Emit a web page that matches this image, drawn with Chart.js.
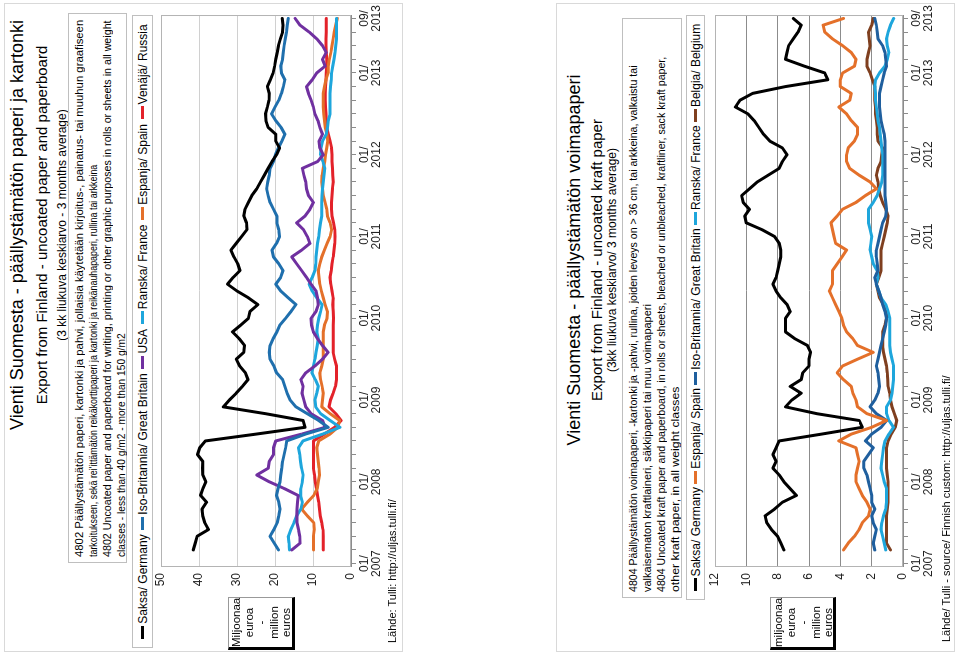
<!DOCTYPE html>
<html>
<head>
<meta charset="utf-8">
<script src="https://cdn.jsdelivr.net/npm/chart.js@4.4.0/dist/chart.umd.min.js"></script>
<style>
body { margin: 0; background: #fff; width: 959px; height: 657px; overflow: hidden; font-family: "Liberation Sans", Arial, sans-serif; color: #000; }
.panel { position: absolute; top: 652px; width: 649px; height: 399px; transform-origin: 0 0; transform: rotate(-90deg); background: #fff; }
.frame { position: absolute; left: 0; top: 0; width: 647px; height: 397px; border: 1px solid #d9d9d9; }
.panel canvas { position: absolute; left: 0; top: 0; }
.abs { position: absolute; white-space: nowrap; }
.ctr { transform: translateX(-50%); }
.t1 { font-size: 18px; }
.t2 { font-size: 15px; }
.t3 { font-size: 12px; }
.notes { position: absolute; border: 1px solid #bfbfbf; }
.notes div { position: absolute; white-space: nowrap; font-size: 11px; line-height: 14px; transform-origin: 0 0; }
.legend { position: absolute; border: 1px solid #bfbfbf; display: flex; align-items: center; justify-content: space-around; font-size: 12px; padding: 0 6px; box-sizing: border-box; }
.legend span.item { white-space: nowrap; display: flex; align-items: center; }
.legend i { display: inline-block; width: 13px; height: 3px; margin-right: 2px; }
.unit { position: absolute; border: 1px solid #999; border-bottom: 3px solid #000; border-left: 3px solid #000; box-sizing: border-box; font-size: 11.5px; line-height: 12.5px; text-align: center; padding-top: 1px; }
.src { font-size: 11px; }
</style>
</head>
<body>

<div class="panel" id="p1" style="left:4px">
  <div class="frame"></div>
  <div class="abs ctr t1" style="left:427px;top:3px">Vienti Suomesta - päällystämätön paperi ja kartonki</div>
  <div class="abs ctr t2" style="left:427px;top:29px">Export from Finland - uncoated paper and paperboard</div>
  <div class="abs ctr t3" style="left:427px;top:51px">(3 kk liukuva keskiarvo - 3 months average)</div>
  <div class="notes" style="left:89px;top:64px;width:548px;height:57px">
    <div data-w="537" style="left:5px;top:3px">4802 Päällystämätön paperi, kartonki ja pahvi, jollaisia käytetään kirjoitus-, painatus- tai muuhun graafiseen</div>
    <div data-w="392" style="left:5px;top:17px">tarkoitukseen, sekä rei'ittämätön reikäkorttipaperi ja kartonki ja reikänauhapaperi, rullina tai arkkeina</div>
    <div data-w="537" style="left:5px;top:31px">4802 Uncoated paper and paperboard for writing, printing or other graphic purposes in rolls or sheets in all weight</div>
    <div data-w="224" style="left:5px;top:45px">classes - less than 40 g/m2 - more than 150 g/m2</div>
  </div>
  <div class="legend" id="leg1" style="left:4px;top:128px;width:633px;height:21px"></div>
  <canvas id="c1" width="649" height="399"></canvas>
  <div class="unit" style="left:2px;top:224px;width:53px;height:67px">Miljoonaa<br>euroa<br>-<br>million<br>euros</div>
  <div class="abs src" style="left:9px;top:382px">Lähde: Tulli: http://uljas.tulli.fi/</div>
</div>

<div class="panel" id="p2" style="left:556px">
  <div class="frame"></div>
  <div class="abs ctr t1" style="left:392px;top:8px">Vienti Suomesta - päällystämätön voimapaperi</div>
  <div class="abs ctr t2" style="left:392px;top:32px">Export from Finland - uncoated kraft paper</div>
  <div class="abs ctr t3" style="left:392px;top:49px">(3kk liukuva keskiarvo/ 3 months average)</div>
  <div class="notes" style="left:54px;top:66px;width:578px;height:58px">
    <div data-w="527" style="left:5px;top:3px">4804 Päällystämätön voimapaperi, -kartonki ja -pahvi, rullina, joiden leveys on &gt; 36 cm, tai arkkeina, valkaistu tai</div>
    <div data-w="288" style="left:5px;top:17px">valkaisematon kraftlaineri, säkkipaperi tai muu voimapaperi</div>
    <div data-w="535" style="left:5px;top:31px">4804 Uncoated kraft paper and paperboard, in rolls or sheets, bleached or unbleached, kraftliner, sack kraft paper,</div>
    <div data-w="205" style="left:5px;top:45px">other kraft paper, in all weight classes</div>
  </div>
  <div class="legend" id="leg2" style="left:52px;top:130px;width:585px;height:19px"></div>
  <canvas id="c2" width="649" height="399"></canvas>
  <div class="unit" style="left:2px;top:214px;width:53px;height:66px">miljoonaa<br>euroa<br>-<br>million<br>euros</div>
  <div class="abs src" style="left:10px;top:384px">Lähde/ Tulli - source/ Finnish custom: http://uljas.tulli.fi/</div>
</div>

<script>
// months 01/2007 .. 09/2013
var years = ['2007', '2008', '2009', '2010', '2011', '2012', '2013'];
var monthNums = ['01', '02', '03', '04', '05', '06', '07', '08', '09', '10', '11', '12'];
var months = [];
years.forEach(function (y) {
	monthNums.forEach(function (m) {
		if (y === '2013' && +m > 9) return;
		months.push(m + '/' + y);
	});
});

// chart 1: uncoated paper and paperboard, million euros
var germany1 = [null, null, 41.5, 41, 40.5, 37.5, 38.5, 39, 39.2, 38,
	39.6, 39, 38.2, 39, 39.1, 39, 40.4, 39.8, 38.3, 25,
	12.1, 12.6, 22.5, 33.6, 32, 30.2, 28.6, 27.1, 27.8, 29.3,
	30.2, 28.2, 28, 29.4, 31.2, 29, 27, 26.6, 24.5, 27,
	30, 32.5, 31, 29.2, 29.8, 30.8, 31.6, 30.2, 28.8, 27.4,
	27.5, 28.2, 27.9, 27, 26.1, 24.8, 23.8, 22.8, 21.8, 20.8,
	19.6, 18.8, 19.8, 19.8, 21.8, 22.4, 22.5, 22, 21.6, 21.5,
	22, 21.2, 20.5, 20.1, 19.8, 19.4, 19.1, 18.6, 18, 17.9,
	18.1];
var britain1 = [null, null, 19.1, 20.2, 21.3, 20.3, 19.4, 19, 18.7, 19,
	19.6, 19.2, 18.7, 18.5, 18.2, 18, 17.6, 17.2, 16.9, 12,
	6, 8.5, 11.5, 14.5, 16, 16.8, 17.4, 18, 19.6, 20.3,
	21.3, 21.5, 21.3, 20.5, 19.5, 18.7, 17.2, 15.8, 14.5, 16.5,
	18.5, 19.8, 18.5, 17.9, 19, 20.4, 20.8, 19.6, 18.8, 19,
	19.5, 19.5, 20.4, 21.3, 21.8, 22.2, 21.9, 21.5, 21.3, 20.4,
	19.9, 19.1, 18.2, 17.4, 18.4, 19.8, 20.9, 20, 19, 18.3,
	17.8, 17.4, 18.3, 18.5, 18, 17.8, 17.6, 17.3, 17, 16.8,
	16.5];
var usa1 = [null, null, 15.6, 13.4, 13.5, 13.8, 14.2, 14.3, 14.2, 14.1,
	13.9, 17.5, 21.5, 24.8, 21.8, 21.5, 20.4, 20.4, 19.8, 13,
	6.8, 7.5, 10.5, 11.9, 12.4, 12.9, 12.6, 13.2, 11.9, 9.5,
	7.5, 6, 7.5, 8.8, 9.9, 10.4, 10.5, 9.2, 8.6, 8.8,
	9.2, 10.5, 11.7, 13, 14.3, 15.6, 13, 10.8, 11.5, 12.5,
	14.3, 12.1, 10.8, 9.9, 11.2, 11.7, 11.9, 12.4, 12.8, 8.8,
	7.3, 8.2, 8.4, 7.5, 8.2, 8.7, 9.5, 9.9, 10.5, 11.2,
	11.7, 10.2, 9, 6.8, 7.5, 6.5, 7.5, 9, 11, 13.4,
	14.7];
var france1 = [null, null, 16.2, 16.3, 16.5, 15.8, 15, 14.3, 13.2, 12.8,
	13.3, 13.2, 12.8, 12.6, 13, 13.3, 13.5, 13.8, 12.6, 7.5,
	2.9, 5.5, 8, 9.3, 9.5, 9, 8.6, 9.4, 10.3, 9.9,
	9.5, 9.2, 8.9, 8.6, 9, 8.8, 8.5, 8, 7.6, 9,
	10.2, 11, 10.2, 9.5, 9.3, 9.2, 9, 8.8, 8.5, 8.3,
	8, 7.7, 7.7, 7.7, 7.6, 7.5, 7.3, 7.1, 6.9, 7.4,
	8, 7.9, 7.5, 6.5, 6.2, 6, 5.5, 5.5, 5.5, 5.5,
	5.4, 5.2, 5.1, 4.8, 4.5, 4.2, 4, 3.8, 3.8, 3.8,
	3.8];
var spain1 = [null, null, 9.9, 9.9, 9.9, 9.7, 9.8, 11.5, 13, 11.5,
	9.8, 8.9, 8.6, 8.3, 8.4, 8.6, 8.8, 9, 8.5, 5.5,
	3.5, 3, 5.5, 7.7, 7.5, 7.3, 7.6, 8, 8.2, 7.7,
	7.3, 7.3, 7.3, 7.3, 7.3, 7, 6.3, 6.2, 6.8, 7.3,
	7.8, 8.2, 8.4, 8.6, 8.2, 7.7, 7, 6.3, 5.5, 5.1,
	5.5, 6.2, 6.4, 6.8, 7.3, 7.5, 7.7, 7.6, 7.3, 6.9,
	6.7, 6.4, 6.1, 6.3, 6.8, 7, 7.2, 7.3, 7.3, 7.3,
	7, 6.6, 6, 6, 5.7, 5.3, 5, 4.7, 4.4, 4,
	3.6];
var russia1 = [null, null, 7.3, 7.3, 7.3, 7.4, 7.7, 8.1, 8.3, 8.5,
	8.8, 9.1, 9.4, 9.6, 9.9, 9.9, 9.9, 9.9, 9.9, 7,
	4.3, 2.6, 4, 5.8, 5.4, 4.7, 4.1, 3.8, 3.8, 3.8,
	4.3, 4.7, 4.7, 4.7, 4.7, 4.7, 4.6, 4.7, 4.8, 4.7,
	5, 5.3, 5.5, 5.2, 5, 4.7, 4.5, 4.3, 4.2, 4.3,
	4.6, 5, 5.1, 5.1, 5, 4.9, 4.7, 4.8, 4.9, 5,
	5, 5.1, 5.5, 6, 6.4, 6.5, 6.6, 6.7, 6.8, 6.8,
	6.7, 6.6, 6.5, 6.4, 6.4, 6.5, 6.6, 6.6, 6.5, 6.5,
	6.5];

// chart 2: uncoated kraft paper, million euros
var germany2 = [null, null, 7.6, 7.8, 8, 8.4, 8.7, 8.8, 8.2, 7.7,
	6.8, 7.2, 7.6, 7.9, 8.3, 8.1, 8.3, 8.1, 7.9, 5.2,
	2.6, 2.8, 5.5, 7.5, 7.1, 6.5, 7.2, 6.5, 6.4, 6,
	6, 5.9, 6.1, 6.9, 7.5, 7.5, 7.5, 7.2, 7.4, 7.8,
	8.1, 8.3, 8.1, 8, 7.9, 7.8, 7.8, 7.9, 8.2, 9,
	10, 10.1, 9.8, 10.2, 10.3, 9.8, 9.3, 8.6, 7.9, 7.7,
	7.4, 7.7, 8.5, 8.9, 9.2, 9.5, 9.9, 10.7, 10.4, 9.6,
	7.5, 4.8, 5, 6.3, 7.5, 7.4, 7.3, 7, 6.7, 6.5,
	7];
var spain2 = [null, null, 3.8, 3.5, 3.1, 2.8, 2.6, 2.2, 2.1, 2.3,
	2.6, 2.8, 3, 3, 2.9, 2.8, 2.9, 3, 4.1, 3.3,
	2, 1.05, 2.3, 2.9, 3, 3.2, 3.3, 3.8, 4.2, 3.85,
	2.9, 1.9, 2.9, 3.2, 3.6, 3.8, 3.9, 4.1, 4.3, 4.5,
	4.7, 4.5, 4.5, 4.5, 4.2, 3.9, 3.6, 4.3, 4.4, 4.5,
	4.6, 4.2, 3.85, 3, 2.4, 1.7, 2.1, 2.8, 3.4, 3.6,
	3.6, 3.5, 3.1, 2.9, 2.9, 3.3, 3.6, 4.1, 3.4, 3.3,
	4, 4, 3.85, 3.1, 3, 3.3, 3.85, 4.5, 5, 5.1,
	3.8];
var britain2 = [null, null, 1.8, 1.9, 1.8, 1.7, 1.9, 2, 1.8, 2,
	2, 2.1, 2.2, 2.3, 2.5, 2.5, 2.2, 1.9, 2.4, 2,
	1.4, 1.05, 1.7, 2.1, 1.8, 1.6, 1.5, 1.55, 1.6, 1.7,
	1.6, 1.5, 1.4, 1.3, 1.2, 1.1, 1.05, 1.15, 1.3, 1.4,
	1.55, 1.7, 1.8, 1.6, 1.65, 1.7, 1.7, 1.6, 1.5, 1.4,
	1.3, 1.1, 1.05, 1.1, 1.15, 1.15, 1.15, 1.15, 1.15, 1.15,
	1.15, 1.15, 1.15, 1.2, 1.3, 1.4, 1.45, 1.5, 1.5, 1.5,
	1.4, 1.3, 1.2, 1.05, 1.1, 1.15, 1.3, 1.6, 1.65, 1.7,
	1.8];
var france2 = [null, null, 1.1, 1.2, 1.3, 1.4, 1.35, 1.25, 1.1, 1.05,
	1.05, 1.05, 1.2, 1.3, 1.4, 1.35, 1.3, 1.25, 1.15, 0.9,
	0.6, 0.9, 1.05, 1.05, 0.8, 0.7, 0.65, 0.6, 0.6, 0.6,
	0.7, 0.8, 0.85, 0.85, 0.85, 0.85, 0.85, 0.95, 1.1, 1.4,
	1.55, 1.7, 1.6, 1.65, 1.9, 2, 2.1, 2.05, 2, 2.1,
	2.2, 2.2, 2.2, 1.9, 1.65, 1.5, 1.35, 1.3, 1.3, 1.3,
	1.3, 1.35, 1.4, 1.45, 1.5, 1.6, 1.65, 1.7, 1.75, 1.75,
	1.8, 1.75, 1.5, 1.15, 1, 0.9, 1, 1.05, 0.95, 0.8,
	0.6];
var belgium2 = [null, null, 0.8, 1.05, 1.05, 1.05, 1.05, 1.05, 1, 0.95,
	0.95, 0.95, 0.95, 1, 1.05, 1.05, 1.05, 1.05, 0.95, 0.75,
	0.5, 0.4, 0.55, 0.7, 0.8, 0.85, 0.95, 0.98, 1, 1.05,
	1.15, 1.25, 1.3, 1.3, 1.3, 1.15, 1.05, 1.05, 1.25, 1.5,
	1.6, 1.7, 1.55, 1.4, 1.4, 1.4, 1.4, 1.3, 1.2, 1.1,
	1, 0.95, 1.1, 1.3, 1.45, 1.55, 1.6, 1.7, 1.6, 1.4,
	1.35, 1.3, 1.6, 1.65, 1.65, 1.7, 1.75, 1.75, 1.8, 1.8,
	1.8, 1.95, 2.1, 2.3, 2.3, 2.2, 2.1, 2.15, 2.2, 2,
	1.9];

var series1 = [
	{ label: 'Saksa/ Germany', data: germany1, color: '#000000' },
	{ label: 'Iso-Britannia/ Great Britain', data: britain1, color: '#1f6fad' },
	{ label: 'USA', data: usa1, color: '#7030a0' },
	{ label: 'Ranska/ France', data: france1, color: '#1ea6dc' },
	{ label: 'Espanja/ Spain', data: spain1, color: '#e4702a' },
	{ label: 'Venäjä/ Russia', data: russia1, color: '#e3222a' }
];
var series2 = [
	{ label: 'Saksa/ Germany', data: germany2, color: '#000000' },
	{ label: 'Espanja/ Spain', data: spain2, color: '#e4702a' },
	{ label: 'Iso-Britannia/ Great Britain', data: britain2, color: '#1f5f9e' },
	{ label: 'Ranska/ France', data: france2, color: '#1ea6dc' },
	{ label: 'Belgia/ Belgium', data: belgium2, color: '#7f3f1f' }
];

// fit the condensed note lines to their width
document.querySelectorAll('[data-w]').forEach(function (el) {
	var w = +el.getAttribute('data-w');
	el.style.transform = 'scaleX(' + (w / el.scrollWidth) + ')';
});

function makeLegend(id, series) {
	var box = document.getElementById(id);
	series.forEach(function (s) {
		var it = document.createElement('span');
		it.className = 'item';
		it.innerHTML = '<i style="background:' + s.color + '"></i>' + s.label;
		box.appendChild(it);
	});
}
makeLegend('leg1', series1);
makeLegend('leg2', series2);

var framePlugin = {
	id: 'frame',
	beforeDatasetsDraw: function (chart) {
		var a = chart.chartArea, c = chart.ctx;
		c.save();
		c.strokeStyle = '#b4b4b4';
		c.lineWidth = 1;
		c.strokeRect(a.left + 0.5, a.top + 0.5, a.right - a.left - 1, a.bottom - a.top - 1);
		c.restore();
	}
};

function drawChart(id, series, maxY, step, gridColor, topPad) {
	var last = months.length - 1;
	return new Chart(document.getElementById(id), {
		type: 'line',
		data: {
			labels: months,
			datasets: series.map(function (s) {
				return {
					label: s.label,
					data: s.data,
					borderColor: s.color,
					backgroundColor: s.color,
					borderWidth: 3,
					pointRadius: 0,
					tension: 0,
					borderJoinStyle: 'round',
					borderCapStyle: 'round'
				};
			})
		},
		plugins: [framePlugin],
		options: {
			responsive: false,
			animation: false,
			layout: { padding: { left: 0, right: 12, top: topPad, bottom: 0 } },
			font: { family: '"Liberation Sans", Arial, sans-serif' },
			plugins: { legend: { display: false }, tooltip: { enabled: false } },
			scales: {
				x: {
					offset: true,
					afterFit: function (s) { s.height = 52; },
					border: { color: '#8c8c8c' },
					grid: {
						drawOnChartArea: false,
						tickLength: 5,
						tickColor: function (c) { return c.index % 2 ? 'rgba(0,0,0,0)' : '#8c8c8c'; }
					},
					ticks: {
						autoSkip: false,
						maxRotation: 0,
						padding: 2,
						color: '#222',
						font: { size: 12, family: '"Liberation Sans", Arial, sans-serif', lineHeight: 1.05 },
						callback: function (v, i) {
							var l = months[i];
							if (l.slice(0, 2) === '01' || i === last) return [l.slice(0, 3), l.slice(3)];
							return '';
						}
					}
				},
				y: {
					min: 0,
					max: maxY,
					afterFit: function (s) { s.width = 85; },
					border: { color: '#8c8c8c' },
					grid: { color: gridColor, drawTicks: false },
					ticks: {
						stepSize: step,
						padding: 6,
						color: '#222',
						font: { size: 12, family: '"Liberation Sans", Arial, sans-serif' }
					}
				}
			}
		}
	});
}

drawChart('c1', series1, 50, 10, '#d0d0d0', 157);
drawChart('c2', series2, 12, 2, '#8c8c8c', 159);
</script>
</body>
</html>
